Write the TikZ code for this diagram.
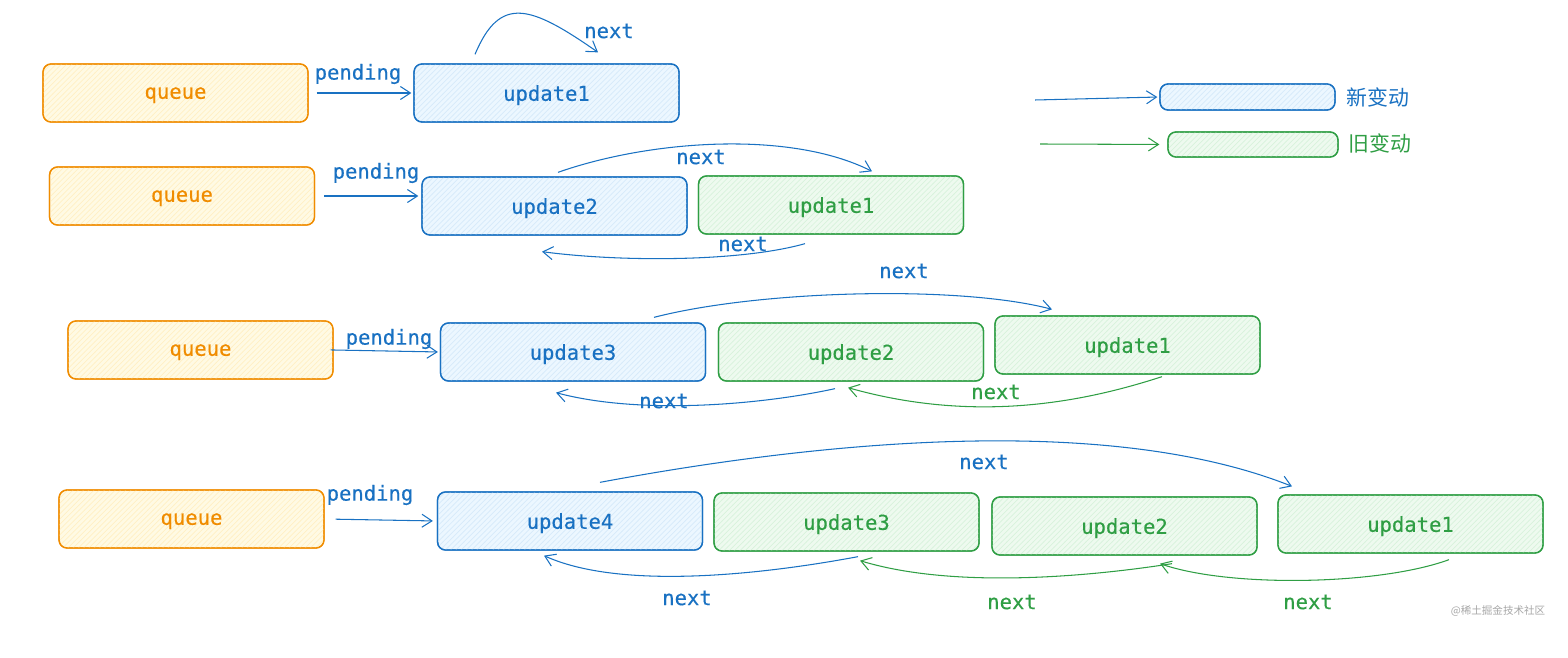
\documentclass[tikz,border=0pt]{standalone}
\usepackage{fontspec}
\usetikzlibrary{arrows.meta,calc,patterns}
\newfontfamily\monofont[FakeBold=0.4]{DejaVu Sans Mono}
\newfontfamily\cjk{Noto Sans CJK SC}
\begin{document}
\begin{tikzpicture}[x=0.02cm,y=-0.02cm,
		box/.style={draw,rounded corners=0.16cm,line width=0.75pt,inner sep=0pt,text depth=0pt,
			minimum width=5.3cm,minimum height=1.16cm,font=\monofont\fontsize{11.7}{14}\selectfont},
		queuebox/.style={box,draw=orange1,fill=orangefill,text=orange1,
			postaction={pattern=north east lines,pattern color=orangehatch},postaction={draw=orange1}},
		newbox/.style={box,draw=blue1,fill=bluefill,text=blue1,
			postaction={pattern=north east lines,pattern color=bluehatch},postaction={draw=blue1}},
		oldbox/.style={box,draw=green1,fill=greenfill,text=green1,
			postaction={pattern=north east lines,pattern color=greenhatch},postaction={draw=green1}},
		link/.style={line width=0.6pt,-{Straight Barb[length=2mm,width=2.6mm]}},
		lbl/.style={font=\monofont\fontsize{11.7}{14}\selectfont,inner sep=1pt}]
	% Define colors
	\definecolor{blue1}{RGB}{25,113,194}
	\definecolor{bluefill}{RGB}{236,247,255}
	\definecolor{bluehatch}{RGB}{214,234,250}
	\definecolor{green1}{RGB}{47,158,68}
	\definecolor{greenfill}{RGB}{238,250,239}
	\definecolor{greenhatch}{RGB}{216,242,220}
	\definecolor{orange1}{RGB}{240,140,0}
	\definecolor{orangefill}{RGB}{255,250,228}
	\definecolor{orangehatch}{RGB}{255,240,196}

	\useasboundingbox (0,0) rectangle (1568,658);

	% Row 1
	\node[queuebox] (q1) at (175.5,93) {queue};
	\node[newbox] (u1) at (546.5,93) {update1};
	\node[lbl,text=blue1] (p1) at (358,74) {pending};
	\node[lbl,text=blue1] (n1) at (609,31) {next};
	\draw[link,blue1,shorten <=0.16cm,shorten >=0.04cm] (q1.east) -- (u1.west);
	\draw[link,blue1] ($(u1.north)+(-71.5,-9)$) .. controls (500,-5) and (530,5) .. ($(u1.north)+(51.5,-11)$);

	% Row 2
	\node[queuebox] (q2) at (182,196) {queue};
	\node[newbox] (u2) at (554.5,206) {update2};
	\node[oldbox] (u21) at (831,205) {update1};
	\node[lbl,text=blue1] (p2) at (376,173) {pending};
	\node[lbl,text=blue1] (n2a) at (701,157) {next};
	\node[lbl,text=blue1] (n2b) at (743,244) {next};
	\draw[link,blue1,shorten <=0.18cm,shorten >=0.06cm] (q2.east) -- (q2.east -| u2.west);
	\draw[link,blue1] ($(u2.north)+(3.5,-4)$) .. controls (650,140) and (790,130) .. ($(u21.north)+(41,-4)$);
	\draw[link,blue1] ($(u21.south)+(-26,9)$) .. controls (740,262) and (620,262) .. ($(u2.south)+(-12.5,16)$);

	% Row 3
	\node[queuebox] (q3) at (200.5,350) {queue};
	\node[newbox] (u3) at (573,352) {update3};
	\node[oldbox] (u32) at (851,352) {update2};
	\node[oldbox] (u31) at (1127.5,345) {update1};
	\node[lbl,text=blue1] (p3) at (389,339) {pending};
	\node[lbl,text=blue1] (n3a) at (904,271) {next};
	\node[lbl,text=blue1] (n3b) at (664,401) {next};
	\node[lbl,text=green1] (n3c) at (996,392) {next};
	\draw[link,blue1,shorten <=-0.06cm,shorten >=0.04cm] (q3.east) -- (u3.west);
	\draw[link,blue1] ($(u3.north)+(81,-5)$) .. controls (760,290) and (960,285) .. ($(u31.north)+(-75.5,-6)$);
	\draw[link,blue1] ($(u32.south)+(-16,7)$) .. controls (760,405) and (640,415) .. ($(u3.south)+(-17,11)$);
	\draw[link,green1] ($(u31.south)+(34.5,2)$) .. controls (1090,400) and (980,425) .. ($(u32.south)+(-3,6)$);

	% Row 4
	\node[queuebox] (q4) at (191.5,519) {queue};
	\node[newbox] (u4) at (570,521) {update4};
	\node[oldbox] (u43) at (846.5,522) {update3};
	\node[oldbox] (u42) at (1124.5,526) {update2};
	\node[oldbox] (u41) at (1410.5,524) {update1};
	\node[lbl,text=blue1] (p4) at (370,495) {pending};
	\node[lbl,text=blue1] (n4a) at (984,462) {next};
	\node[lbl,text=blue1] (n4b) at (687,598) {next};
	\node[lbl,text=green1] (n4c) at (1012,602) {next};
	\node[lbl,text=green1] (n4d) at (1308,602) {next};
	\draw[link,blue1,shorten <=0.22cm,shorten >=0.08cm] (q4.east) -- (u4.west);
	\draw[link,blue1] ($(u4.north)+(30,-9)$) .. controls (800,445) and (1100,410) .. ($(u41.north)+(-118.5,-8)$);
	\draw[link,blue1] ($(u43.south)+(11.5,5)$) .. controls (760,575) and (620,590) .. ($(u4.south)+(-26,5)$);
	\draw[link,green1] ($(u42.south)+(47.5,8)$) .. controls (1080,578) and (950,588) .. ($(u43.south)+(13.5,9)$);
	\draw[link,green1] ($(u41.south)+(38.5,6)$) .. controls (1380,585) and (1230,588) .. ($(u42.south)+(35.5,8)$);

	% Legend
	\coordinate (lnewin) at (1035,100);
	\coordinate (loldin) at (1040,144);
	\node[newbox,minimum width=3.5cm,minimum height=0.52cm] (lnew) at (1247.5,97) {};
	\node[oldbox,minimum width=3.4cm,minimum height=0.5cm] (lold) at (1253,144.5) {};
	\node[font=\cjk\fontsize{11.9}{14}\selectfont,text=blue1,inner sep=0pt] (tnew) at (1378,97) {新变动};
	\node[font=\cjk\fontsize{11.9}{14}\selectfont,text=green1,inner sep=0pt] (told) at (1380,143) {旧变动};
	\draw[link,blue1,shorten >=0.04cm] (lnewin) -- (lnew.west);
	\draw[link,green1,shorten >=0.16cm] (loldin) -- (lold.west);

	% Watermark
	\node[font=\cjk\fontsize{6}{7}\selectfont,text=black!35,inner sep=0pt] (wm) at (1498,611) {@稀土掘金技术社区};
\end{tikzpicture}
\end{document}
